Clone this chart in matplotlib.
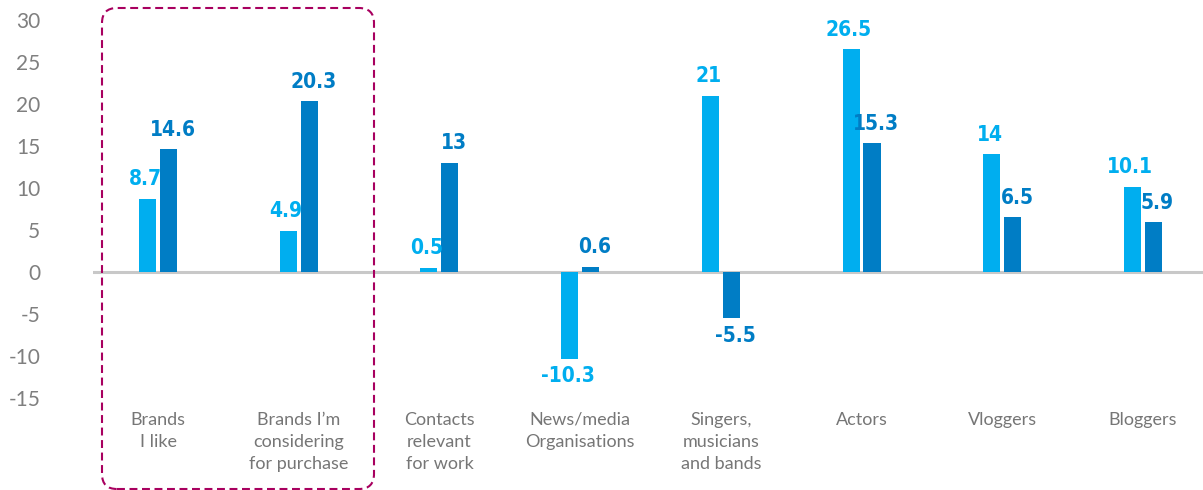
"""Grouped bar chart: net change by contact type, two survey waves."""

import matplotlib

matplotlib.use("Agg")
import matplotlib.pyplot as plt
import numpy as np
from matplotlib.patches import FancyBboxPatch

CATEGORIES = [
    "Brands\nI like",
    "Brands I\u2019m\nconsidering\nfor purchase",
    "Contacts\nrelevant\nfor work",
    "News/media\nOrganisations",
    "Singers,\nmusicians\nand bands",
    "Actors",
    "Vloggers",
    "Bloggers",
]
SERIES_A = [8.7, 4.9, 0.5, -10.3, 21, 26.5, 14, 10.1]
SERIES_B = [14.6, 20.3, 13, 0.6, -5.5, 15.3, 6.5, 5.9]
Y_TICKS = [-15, -10, -5, 0, 5, 10, 15, 20, 25, 30]

LIGHT = "#00AEEF"
DARK = "#007DC5"
GREY_TEXT = "#7F7F7F"
BOX_COLOR = "#A8005F"


def _fmt(v: float) -> str:
    return f"{v:g}"


def main() -> None:
    fig = plt.figure(figsize=(12.03, 4.9), dpi=100)
    W, H = 1203, 490
    ax = fig.add_axes([93 / W, 1 - 398 / H, 1 - 93 / W, (398 - 20) / H])

    x = np.arange(len(CATEGORIES))
    width = 0.121
    off = 0.0746
    ax.bar(x - off, SERIES_A, width, color=LIGHT, zorder=2)
    ax.bar(x + off, SERIES_B, width, color=DARK, zorder=2)
    ax.axhline(0, color="#C8C8C8", linewidth=2.2, zorder=1)

    for series, shift, color in ((SERIES_A, -off, LIGHT), (SERIES_B, off, DARK)):
        dx = -1.5 if color == LIGHT else 3
        for xi, v in zip(x, series):
            ax.annotate(
                _fmt(v),
                xy=(xi + shift, v),
                xytext=(dx, 7 if v >= 0 else -5.5),
                textcoords="offset points",
                ha="center",
                va="bottom" if v >= 0 else "top",
                color=color,
                fontsize=15,
                fontweight="bold",
                fontstretch="condensed",
                family="DejaVu Sans",
            )

    ax.set_xlim(-0.462, 7.427)
    ax.set_ylim(-15, 30)
    ax.set_yticks(Y_TICKS)
    ax.set_yticklabels([str(t) for t in Y_TICKS], fontsize=15, color=GREY_TEXT, family="Lato")
    ax.tick_params(axis="y", length=0, pad=38)
    ax.set_xticks(x)
    ax.set_xticklabels(CATEGORIES, fontsize=13, color="#767676", family="Lato", linespacing=1.45, va="top")
    ax.tick_params(axis="x", length=0, pad=10)
    for spine in ax.spines.values():
        spine.set_visible(False)

    # dashed highlight around the two brand groups
    box = FancyBboxPatch(
        (1.02, 0.01),
        2.72,
        4.81,
        boxstyle="round,pad=0,rounding_size=0.15",
        transform=fig.dpi_scale_trans,
        fill=False,
        edgecolor=BOX_COLOR,
        linewidth=1.5,
        linestyle=(0, (3.8, 2.2)),
        zorder=5,
    )
    fig.patches.append(box)

    fig.savefig("out.png", dpi=100)
    plt.close(fig)


if __name__ == "__main__":
    main()
